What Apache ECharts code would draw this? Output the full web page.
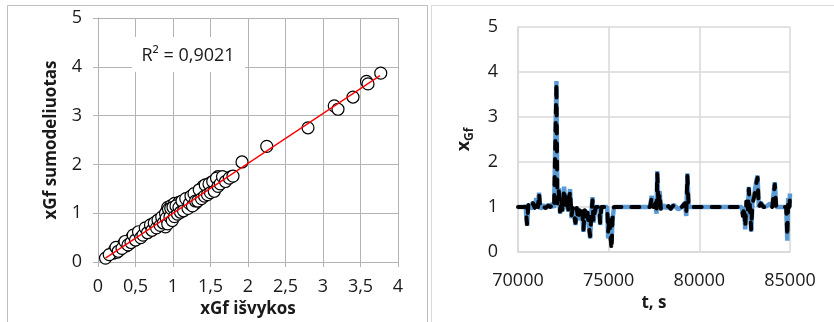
<!DOCTYPE html>
<html>
<head>
<meta charset="utf-8">
<script src="https://cdn.jsdelivr.net/npm/echarts@6/dist/echarts.min.js"></script>
<style>
  html, body { margin: 0; padding: 0; background: #fff; }
  #chart { width: 834px; height: 322px; }
</style>
</head>
<body>
<div id="chart"></div>
<script>
// Left panel: modelled vs measured xGf (scatter + linear trend)
const measuredX = [0.1,0.2,0.22,0.25,0.28,0.3,0.33,0.35,0.38,0.4,0.42,0.45,0.48,0.5,0.52,0.55,0.58,0.6,0.62,0.65,
  0.67,0.7,0.72,0.75,0.77,0.8,0.82,0.85,0.87,0.88,0.9,0.9,0.92,0.92,0.93,0.95,0.95,0.97,0.98,1.0,
  1.0,1.02,1.03,1.05,1.07,1.08,1.1,1.12,1.15,1.15,1.18,1.2,1.22,1.25,1.27,1.3,1.3,1.32,1.35,1.37,
  1.4,1.4,1.42,1.45,1.47,1.5,1.5,1.52,1.55,1.57,1.6,1.6,1.62,1.65,1.68,1.7,1.72,1.78,
  0.15,0.24,0.27,0.32,0.36,0.4,0.44,0.47,0.5,0.54,0.57,0.6,0.63,0.66,0.7,0.72,0.75,0.78,0.8,0.83,
  0.85,0.87,0.9,0.91,0.93,0.94,0.96,0.97,0.99,1.0,1.02,1.04,1.06,1.08,1.1,1.12,1.14,1.17,1.2,1.22,
  1.24,1.26,1.28,1.3,1.33,1.35,1.38,1.42,1.43,1.46,1.48,1.5,1.53,1.55,1.58,1.6,1.63,1.66,1.7,1.75,1.8,
  1.92,2.25,2.8,3.15,3.2,3.4,3.58,3.6,3.77];
const modelledY = [0.08,0.18,0.25,0.2,0.3,0.27,0.35,0.38,0.33,0.42,0.4,0.5,0.45,0.52,0.48,0.58,0.55,0.62,0.6,0.66,
  0.7,0.68,0.75,0.72,0.8,0.78,0.85,0.82,0.9,0.78,0.95,0.72,1.05,0.85,1.12,0.98,0.88,1.15,1.02,0.95,
  1.05,1.2,1.0,1.1,1.02,1.22,1.08,1.15,1.12,1.25,1.2,1.15,1.3,1.22,1.35,1.28,1.2,1.4,1.32,1.45,
  1.38,1.55,1.5,1.42,1.55,1.48,1.62,1.58,1.52,1.68,1.62,1.75,1.7,1.72,1.65,1.7,1.72,1.75,
  0.15,0.3,0.22,0.28,0.42,0.35,0.4,0.55,0.45,0.62,0.5,0.55,0.7,0.6,0.76,0.65,0.8,0.7,0.86,0.75,
  0.92,0.8,1.0,0.9,0.78,1.08,0.92,1.1,0.85,1.12,0.93,1.15,0.98,1.12,1.02,1.25,1.05,1.3,1.1,1.2,
  1.35,1.15,1.4,1.25,1.25,1.48,1.3,1.35,1.58,1.38,1.6,1.42,1.65,1.45,1.72,1.55,1.6,1.75,1.65,1.72,1.76,
  2.05,2.37,2.75,3.2,3.13,3.38,3.7,3.65,3.87];
const trendX = [0.1, 3.76];
const trendY = [0.08, 3.82];
const r2Label = 'R² = 0,9021';

// Right panel: xGf time series (measured vs modelled)
const timeS = [70000,70280,70420,70500,70570,70700,70830,70920,71010,71100,71160,71230,71380,71530,71660,71790,71900,71990,72060,72120,
  72170,72250,72320,72400,72450,72540,72620,72710,72780,72870,72950,73020,73100,73170,73240,73320,73390,73460,73540,73610,
  73680,73760,73830,73910,73980,74050,74110,74160,74240,74290,74480,74530,74600,74920,74970,75050,75100,75160,75210,75290,
  77280,77370,77460,77570,77640,77680,77750,77810,77880,78010,78140,78290,78420,78570,78710,78840,79030,79210,79280,79340,
  79410,82340,82400,82470,82530,82600,82670,82730,82800,82860,82930,83040,83130,83210,83280,83390,83540,83720,83910,84020,
  84160,84240,84460,84790,84850,84900,84970,85000];
const xgfMeasured = [1.0,1.0,1.02,0.58,1.05,0.95,1.12,0.98,1.2,1.0,1.32,0.95,1.05,0.97,1.05,1.0,1.08,0.98,1.02,3.8,
  1.1,1.42,0.85,1.2,0.9,1.45,0.95,1.3,0.9,1.4,0.75,1.0,0.8,0.6,1.0,0.7,0.95,0.75,0.9,0.45,
  0.95,0.7,0.9,0.55,0.3,0.9,1.22,0.65,0.9,1.0,1.0,0.6,1.0,1.0,0.3,0.8,0.3,0.22,0.7,1.0,
  1.0,1.25,1.0,1.1,0.85,1.8,1.0,1.35,0.95,1.05,0.97,1.03,0.95,1.05,1.0,0.95,1.0,1.1,0.8,1.75,
  1.0,1.0,0.85,1.0,0.5,1.15,0.85,1.45,0.9,0.45,1.1,1.3,1.55,1.7,1.0,1.1,1.0,1.02,1.08,1.0,
  1.55,1.0,1.0,1.0,0.25,1.2,1.0,1.3];
const xgfModelled = [1.0,1.0,1.0,0.62,1.05,0.96,1.08,0.98,1.15,1.0,1.3,0.96,1.0,0.98,1.03,1.0,1.05,0.99,1.0,3.75,
  1.08,1.35,0.9,1.18,0.92,1.4,0.96,1.28,0.92,1.35,0.8,0.98,0.82,0.65,0.98,0.72,0.93,0.77,0.9,0.5,
  0.93,0.72,0.88,0.58,0.35,0.88,1.15,0.68,0.9,1.0,1.0,0.65,1.0,1.0,0.45,0.78,0.35,0.05,0.72,1.0,
  1.0,1.2,1.0,1.08,0.88,1.75,1.0,1.3,0.96,1.03,0.98,1.02,0.96,1.03,1.0,0.96,1.0,1.08,0.85,1.7,
  1.0,1.0,0.8,1.0,0.55,1.12,0.88,1.4,0.92,0.5,1.08,1.25,1.5,1.65,1.0,1.08,1.0,1.01,1.06,1.0,
  1.5,1.0,1.0,1.0,0.35,1.15,1.0,1.25];

const FONT = '"Open Sans", "Liberation Sans", sans-serif';
const TXT = '#1a1a1a';

const scatterData = measuredX.map((x, i) => [x, modelledY[i]]);
const trendData = trendX.map((x, i) => [x, trendY[i]]);
const measuredSeries = timeS.map((t, i) => [t, xgfMeasured[i]]);
const modelledSeries = timeS.map((t, i) => [t, xgfModelled[i]]);

const chart = echarts.init(document.getElementById('chart'), null, { renderer: 'canvas' });

const leftGrid = '#b3b3b3';
const rightGrid = '#d9d9d9';

chart.setOption({
  animation: false,
  backgroundColor: '#fff',
  grid: [
    { left: 98, top: 18, width: 300, height: 244, containLabel: false, outerBoundsMode: 'none' },
    { left: 518, top: 27, width: 272, height: 225, containLabel: false, outerBoundsMode: 'none' }
  ],
  xAxis: [
    {
      gridIndex: 0, type: 'value', min: 0, max: 4, interval: 0.5,
      name: 'xGf išvykos', nameLocation: 'middle', nameGap: 36,
      nameTextStyle: { fontFamily: FONT, fontSize: 17, fontWeight: 'bold', color: TXT },
      axisLine: { show: true, lineStyle: { color: leftGrid, width: 1 } },
      axisTick: { show: true, length: 5, lineStyle: { color: leftGrid } },
      axisLabel: { margin: 16, fontFamily: FONT, fontSize: 18, color: TXT,
        formatter: v => String(v).replace('.', ',') },
      splitLine: { show: true, lineStyle: { color: leftGrid, width: 1 } }
    },
    {
      gridIndex: 1, type: 'value', min: 70000, max: 85000, interval: 5000,
      name: 't, s', nameLocation: 'middle', nameGap: 40,
      nameTextStyle: { fontFamily: FONT, fontSize: 17, fontWeight: 'bold', color: TXT },
      axisLine: { show: true, lineStyle: { color: rightGrid, width: 1.5 } },
      axisTick: { show: false },
      axisLabel: { margin: 20, fontFamily: FONT, fontSize: 18, color: TXT, formatter: v => String(v) },
      splitLine: { show: true, lineStyle: { color: rightGrid, width: 1.5 } }
    }
  ],
  yAxis: [
    {
      gridIndex: 0, type: 'value', min: 0, max: 5, interval: 1,
      name: 'xGf sumodeliuotas', nameLocation: 'middle', nameGap: 38,
      nameTextStyle: { fontFamily: FONT, fontSize: 17, fontWeight: 'bold', color: TXT },
      axisLine: { show: true, lineStyle: { color: leftGrid, width: 1 } },
      axisTick: { show: true, length: 5, lineStyle: { color: leftGrid } },
      axisLabel: { margin: 16, fontFamily: FONT, fontSize: 18, color: TXT },
      splitLine: { show: true, lineStyle: { color: leftGrid, width: 1 } }
    },
    {
      gridIndex: 1, type: 'value', min: 0, max: 5, interval: 1,
      name: '{x|x}{s|Gf}', nameLocation: 'middle', nameGap: 42,
      nameTextStyle: {
        color: TXT,
        rich: {
          x: { fontFamily: FONT, fontSize: 18, fontWeight: 'bold', color: TXT, lineHeight: 24, verticalAlign: 'middle' },
          s: { fontFamily: FONT, fontSize: 12, fontWeight: 'bold', color: TXT, lineHeight: 24, verticalAlign: 'bottom' }
        }
      },
      axisLine: { show: true, lineStyle: { color: rightGrid, width: 1.5 } },
      axisTick: { show: false },
      axisLabel: { margin: 20, fontFamily: FONT, fontSize: 18, color: TXT },
      splitLine: { show: true, lineStyle: { color: rightGrid, width: 1.5 } }
    }
  ],
  graphic: [
    { type: 'rect', shape: { x: 7.5, y: 5.5, width: 420, height: 330 },
      style: { fill: 'none', stroke: '#bfbfbf', lineWidth: 1 }, z: -10, silent: true },
    { type: 'rect', shape: { x: 431.5, y: 5.5, width: 420, height: 330 },
      style: { fill: 'none', stroke: '#d9d9d9', lineWidth: 1 }, z: -10, silent: true },
    { type: 'rect', shape: { x: 132, y: 37, width: 113, height: 35 },
      style: { fill: '#fff' }, z: 10, silent: true },
    { type: 'text', x: 188, y: 56, z: 11, silent: true,
      style: { text: r2Label, fontFamily: FONT, fontSize: 18, fill: TXT, align: 'center', verticalAlign: 'middle' } }
  ],
  series: [
    {
      type: 'scatter', xAxisIndex: 0, yAxisIndex: 0, data: scatterData,
      symbol: 'circle', symbolSize: 12,
      itemStyle: { color: '#fff', borderColor: '#000', borderWidth: 1.2, opacity: 1 },
      z: 3
    },
    {
      type: 'line', xAxisIndex: 0, yAxisIndex: 0, data: trendData,
      symbol: 'none', lineStyle: { color: '#ff0000', width: 1.3 }, z: 4
    },
    {
      type: 'line', xAxisIndex: 1, yAxisIndex: 1, data: measuredSeries,
      symbol: 'none', lineStyle: { color: '#5b9bd5', width: 4.5 }, z: 3
    },
    {
      type: 'line', xAxisIndex: 1, yAxisIndex: 1, data: modelledSeries,
      symbol: 'none',
      lineStyle: { color: '#000', width: 4, type: [8, 10], cap: 'round', join: 'round' }, z: 4
    }
  ]
});
</script>
</body>
</html>
